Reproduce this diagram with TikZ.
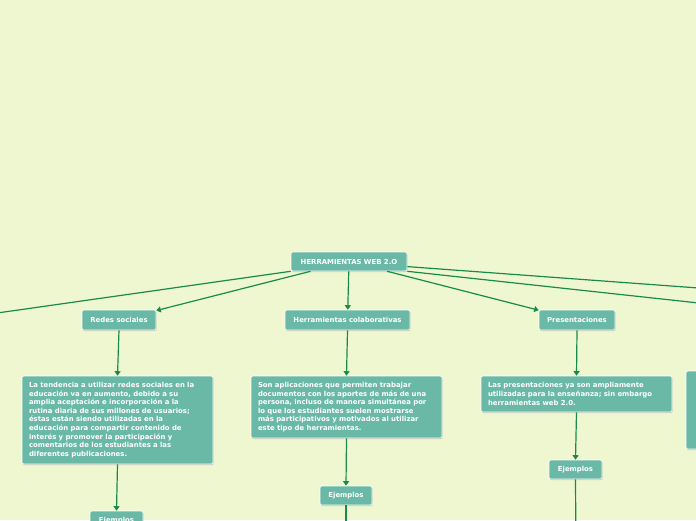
\documentclass[tikz,border=0pt]{standalone}
\usepackage{fontspec}
\setmainfont{DejaVu Sans}
\usetikzlibrary{arrows.meta,shadows}
\definecolor{bgc}{RGB}{238,247,208}
\definecolor{boxc}{RGB}{106,185,166}
\definecolor{linec}{RGB}{26,138,74}
\tikzset{
  box/.style={draw=white, line width=0.6pt, fill=boxc, rounded corners=2pt,
    text=white, font=\fontsize{6.9}{8.6}\selectfont\bfseries, inner sep=0pt,
    drop shadow={shadow xshift=0.6pt, shadow yshift=-1pt, fill=black!45, opacity=0.45}},
  desc/.style={box, align=left, text width=177pt},
  conn/.style={draw=linec, line width=1.2pt},
  arr/.style={conn, -{Triangle[width=6pt,length=4.5pt]}}
}
\begin{document}
\begin{tikzpicture}[x=1pt,y=-1pt]
\fill[bgc] (0,0) rectangle (696,520);
\useasboundingbox (0,0) rectangle (696,520);
\clip (0,0) rectangle (696,520);

\node[box, minimum width=116pt, minimum height=19pt] (root) at (349,261.5) {HERRAMIENTAS WEB 2.O};
\node[box, minimum width=74pt, minimum height=20pt] (redes) at (119,320) {Redes sociales};
\node[box, minimum width=125pt, minimum height=20pt] (colab) at (347.5,320) {Herramientas colaborativas};
\node[box, minimum width=76pt, minimum height=20pt] (pres) at (577,320) {Presentaciones};

\node[desc, minimum width=191pt, minimum height=88pt] (redesdesc) at (117.5,420) {La tendencia a utilizar redes sociales en la\\educación va en aumento, debido a su\\amplia aceptación e incorporación a la\\rutina diaria de sus millones de usuarios;\\éstas están siendo utilizadas en la\\educación para compartir contenido de\\interés y promover la participación y\\comentarios de los estudiantes a las\\diferentes publicaciones.};
\node[desc, minimum width=191pt, minimum height=62pt] (colabdesc) at (346.5,407) {Son aplicaciones que permiten trabajar\\documentos con los aportes de más de una\\persona, incluso de manera simultánea por\\lo que los estudiantes suelen mostrarse\\más participativos y motivados al utilizar\\este tipo de herramientas.};
\node[desc, minimum width=191pt, minimum height=36pt] (presdesc) at (576.5,394) {Las presentaciones ya son ampliamente\\utilizadas para la enseñanza; sin embargo\\herramientas web 2.0.};
\node[box, minimum width=40pt, minimum height=78pt] (rightdesc) at (706,410) {};

\node[box, minimum width=53pt, minimum height=20pt] (ej1) at (116.5,521) {Ejemplos};
\node[box, minimum width=52pt, minimum height=19pt] (ej2) at (346,495.5) {Ejemplos};
\node[box, minimum width=53pt, minimum height=19pt] (ej3) at (575.5,469.5) {Ejemplos};

\coordinate (offL) at (-200,341);
\coordinate (offR1) at (900,302.8);
\coordinate (offR2) at (900,324.9);
\coordinate (off2) at (346,560);
\coordinate (off3) at (576,560);

\draw[conn] (root.south west) -- (offL);
\draw[conn] (root.-5.4) -- (offR1);
\draw[conn] (root.south east) -- (offR2);
\draw[arr] (root) -- (redes);
\draw[arr] (root) -- (colab);
\draw[arr] (root) -- (pres);
\draw[arr] (redes.south) -- (redesdesc.north);
\draw[arr] (colab.south) -- (colabdesc.north);
\draw[arr] (pres.south) -- (presdesc.north);
\draw[arr] (redesdesc.south) -- (ej1.north);
\draw[arr] (colabdesc.south) -- (ej2.north);
\draw[arr] (presdesc.south) -- (ej3.north);
\draw[conn] (ej2.south) -- (off2);
\draw[conn] (ej3.south) -- (off3);
\end{tikzpicture}
\end{document}
